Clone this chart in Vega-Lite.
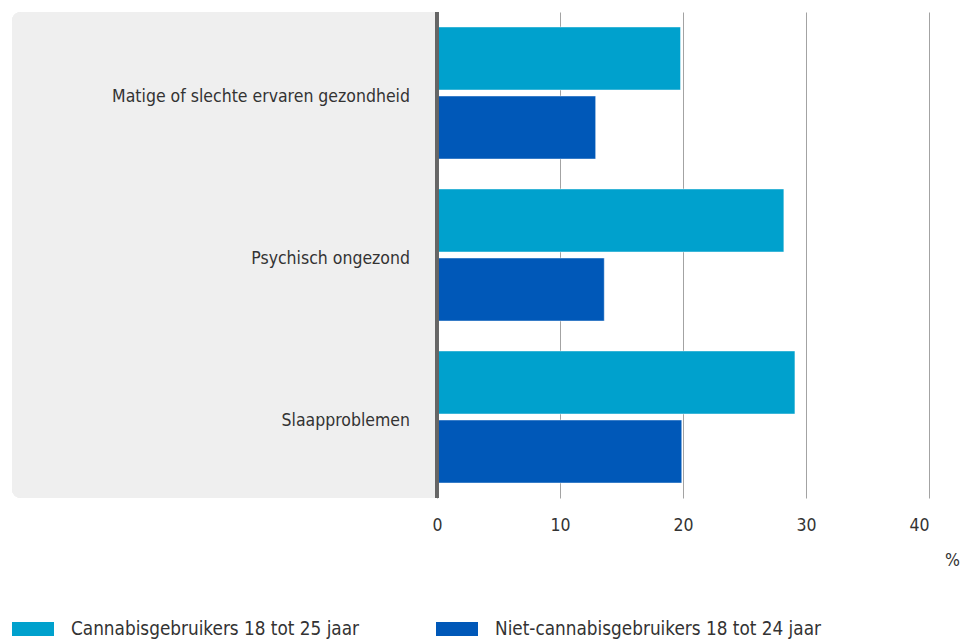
{
  "$schema": "https://vega.github.io/schema/vega-lite/v6.json",
  "width": 917,
  "height": 486,
  "autosize": "none",
  "padding": {"left": 12, "top": 12, "right": 39, "bottom": 141},
  "background": "white",
  "config": {
    "view": {"stroke": null},
    "font": "DejaVu Sans Condensed",
    "text": {"font": "DejaVu Sans Condensed"}
  },
  "datasets": {
    "cijfers": [
      {"categorie": "Matige of slechte ervaren gezondheid", "groep": "Cannabisgebruikers 18 tot 25 jaar", "waarde": 19.8},
      {"categorie": "Matige of slechte ervaren gezondheid", "groep": "Niet-cannabisgebruikers 18 tot 24 jaar", "waarde": 12.9},
      {"categorie": "Psychisch ongezond", "groep": "Cannabisgebruikers 18 tot 25 jaar", "waarde": 28.2},
      {"categorie": "Psychisch ongezond", "groep": "Niet-cannabisgebruikers 18 tot 24 jaar", "waarde": 13.6},
      {"categorie": "Slaapproblemen", "groep": "Cannabisgebruikers 18 tot 25 jaar", "waarde": 29.1},
      {"categorie": "Slaapproblemen", "groep": "Niet-cannabisgebruikers 18 tot 24 jaar", "waarde": 19.9}
    ]
  },
  "data": {"name": "cijfers"},
  "layer": [
    {
      "mark": {"type": "rect", "color": "#efefef", "cornerRadiusTopLeft": 9, "cornerRadiusBottomLeft": 9},
      "encoding": {
        "x": {"datum": -34.55, "type": "quantitative"},
        "x2": {"datum": 0}
      }
    },
    {
      "mark": {"type": "bar", "strokeWidth": 1, "stroke": "white", "strokeOpacity": 0.45},
      "encoding": {
        "y": {
          "field": "categorie", "type": "nominal", "sort": null,
          "scale": {"paddingInner": 0, "paddingOuter": 0},
          "axis": null
        },
        "yOffset": {
          "field": "groep", "type": "nominal", "sort": null,
          "scale": {"paddingInner": 0.087, "paddingOuter": 0.217}
        },
        "x": {
          "field": "waarde", "type": "quantitative",
          "scale": {"domain": [-34.55, 40], "nice": false, "zero": false},
          "axis": {
            "values": [0, 10, 20, 30, 40],
            "grid": true, "gridColor": "#a3a3a3", "gridWidth": 1,
            "domain": false, "ticks": false,
            "labelFontSize": 17.5, "labelColor": "#333333", "labelPadding": 18,
            "labelFont": "DejaVu Sans Condensed",
            "title": "%", "titleFontSize": 17.5, "titleFontWeight": "normal", "titleColor": "#333333",
            "titleFont": "DejaVu Sans Condensed",
            "titleX": 940, "titleY": 62, "titleBaseline": "middle", "titleAlign": "center"
          }
        },
        "color": {
          "field": "groep", "type": "nominal", "sort": null,
          "scale": {"range": ["#00a1cd", "#0058b8"]},
          "legend": {
            "title": null, "orient": "none", "legendX": 0, "legendY": 596,
            "direction": "horizontal", "columns": 2, "columnPadding": 76,
            "padding": 0,
            "symbolType": "M-1,-0.333H1V0.333H-1Z", "symbolSize": 1764,
            "symbolStrokeWidth": 0, "symbolOpacity": 1,
            "labelFontSize": 18.8, "labelColor": "#333333", "labelOffset": 17,
            "labelFont": "DejaVu Sans Condensed", "labelLimit": 500
          }
        }
      }
    },
    {
      "mark": {"type": "rule", "color": "#666666", "strokeWidth": 3},
      "encoding": {"x": {"datum": 0, "type": "quantitative"}}
    },
    {
      "transform": [{"filter": "datum.groep === 'Cannabisgebruikers 18 tot 25 jaar'"}],
      "mark": {"type": "text", "align": "right", "baseline": "middle", "dx": -27, "dy": 4, "fontSize": 17.5, "color": "#333333"},
      "encoding": {
        "y": {"field": "categorie", "type": "nominal", "sort": null},
        "x": {"datum": 0, "type": "quantitative"},
        "text": {"field": "categorie"}
      }
    }
  ]
}
